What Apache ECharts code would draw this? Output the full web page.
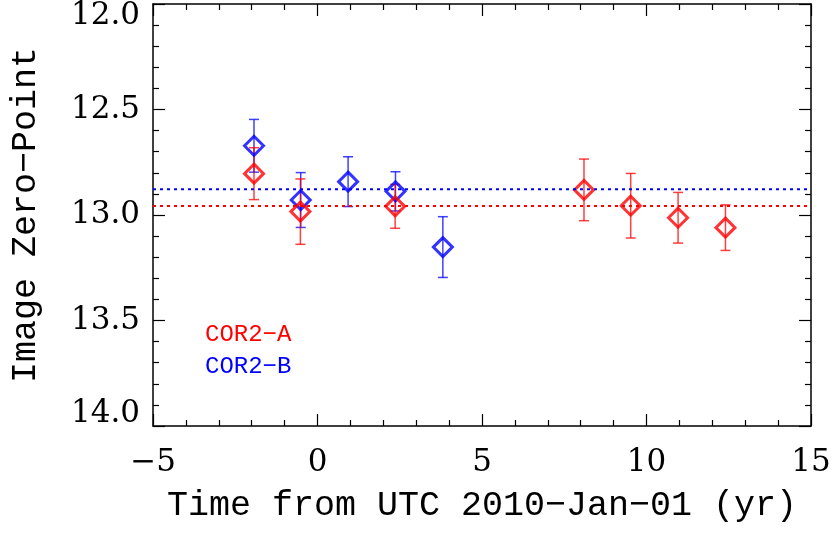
<!DOCTYPE html>
<html>
<head>
<meta charset="utf-8">
<script src="https://cdn.jsdelivr.net/npm/echarts@6/dist/echarts.min.js"></script>
<style>
  html, body { margin: 0; padding: 0; background: #fff; }
  #chart { width: 835px; height: 536px; }
</style>
</head>
<body>
<div id="chart"></div>
<script>
// COR2-A (red) and COR2-B (blue) zero-points
var timeA = [-1.93, -0.52, 2.36, 8.10, 9.52, 10.96, 12.40];
var zpA   = [12.804, 12.984, 12.959, 12.881, 12.956, 13.013, 13.060];
var errA  = [0.123, 0.155, 0.104, 0.146, 0.153, 0.120, 0.108];

var timeB = [-1.93, -0.51, 0.93, 2.37, 3.81];
var zpB   = [12.672, 12.929, 12.842, 12.888, 13.152];
var errB  = [0.125, 0.130, 0.118, 0.093, 0.144];

var meanA = 12.957;
var meanB = 12.878;

var xTicks = [-5, 0, 5, 10, 15];
var yTicks = [12.0, 12.5, 13.0, 13.5, 14.0];

var MONO = '"Liberation Mono", "DejaVu Sans Mono", monospace';
var SERIF = '"DejaVu Serif", "Liberation Serif", serif';

var pts = function (xs, ys) {
    return xs.map(function (x, i) { return [x, ys[i]]; });
};
var errPts = function (xs, ys, es) {
    return xs.map(function (x, i) { return [x, ys[i] - es[i], ys[i] + es[i]]; });
};

// error bar with small caps, drawn through the axis scales
var errorBar = function (color) {
    return function (params, api) {
        var lo = api.coord([api.value(0), api.value(1)]);
        var hi = api.coord([api.value(0), api.value(2)]);
        var w = 5;
        var st = { stroke: color, lineWidth: 1.5, opacity: 0.75 };
        return {
            type: 'group',
            children: [
                { type: 'line', shape: { x1: lo[0], y1: lo[1], x2: hi[0], y2: hi[1] }, style: st },
                { type: 'line', shape: { x1: lo[0] - w, y1: lo[1], x2: lo[0] + w, y2: lo[1] }, style: st },
                { type: 'line', shape: { x1: hi[0] - w, y1: hi[1], x2: hi[0] + w, y2: hi[1] }, style: st }
            ]
        };
    };
};

var myChart = echarts.init(document.getElementById('chart'));

var axisCommon = {
    axisLine: { show: true, onZero: false, lineStyle: { color: '#000', width: 1.5 } },
    splitLine: { show: false },
    axisTick: { show: true, inside: true, length: 12, lineStyle: { color: '#000', width: 1.2 } },
    minorTick: { show: true, splitNumber: 5, length: 6, lineStyle: { color: '#000', width: 1.2 } }
};

var option = {
    animation: false,
    backgroundColor: '#fff',
    grid: { left: 152, right: 24, top: 4, bottom: 110 },
    xAxis: [
        Object.assign({
            type: 'value', min: -5, max: 15, interval: 5, position: 'bottom',
            name: 'Time from UTC 2010\u2212Jan\u221201 (yr)',
            nameLocation: 'middle', nameGap: 62,
            nameTextStyle: { fontFamily: MONO, fontSize: 35, color: '#000' },
            axisLabel: {
                fontFamily: SERIF, fontSize: 31, color: '#000', margin: 21,
                formatter: function (v) { return xTicks.indexOf(v) >= 0 ? String(v).replace('-', '\u2212') : ''; }
            }
        }, axisCommon),
        Object.assign({
            type: 'value', min: -5, max: 15, interval: 5, position: 'top',
            axisLabel: { show: false }
        }, axisCommon)
    ],
    yAxis: [
        Object.assign({
            type: 'value', min: 12, max: 14, interval: 0.5, inverse: true, position: 'left',
            name: 'Image Zero\u2212Point',
            nameLocation: 'middle', nameGap: 110,
            nameTextStyle: { fontFamily: MONO, fontSize: 35, color: '#000' },
            axisLabel: {
                fontFamily: SERIF, fontSize: 31, lineHeight: 24, color: '#000', margin: 13,
                verticalAlignMinLabel: 'top', verticalAlignMaxLabel: 'bottom',
                formatter: function (v) { return yTicks.indexOf(v) >= 0 ? v.toFixed(1) : ''; }
            }
        }, axisCommon),
        Object.assign({
            type: 'value', min: 12, max: 14, interval: 0.5, inverse: true, position: 'right',
            axisLabel: { show: false }
        }, axisCommon)
    ],
    graphic: [
        { type: 'text', left: 205, top: 323, style: { text: 'COR2\u2212A', fill: '#ff0000', font: '24px ' + MONO } },
        { type: 'text', left: 205, top: 355, style: { text: 'COR2\u2212B', fill: '#0000ff', font: '24px ' + MONO } }
    ],
    series: [
        {
            type: 'line', data: [[-5, meanB], [15, meanB]], symbol: 'none', silent: true,
            lineStyle: { color: '#0000ff', width: 2, type: [3, 4] }
        },
        {
            type: 'line', data: [[-5, meanA], [15, meanA]], symbol: 'none', silent: true,
            lineStyle: { color: '#ff0000', width: 2, type: [3, 4] }
        },
        {
            type: 'custom', data: errPts(timeB, zpB, errB), renderItem: errorBar('#0000ff'),
            encode: { x: 0, y: [1, 2] }
        },
        {
            type: 'scatter', data: pts(timeB, zpB), symbol: 'diamond', symbolSize: 19,
            itemStyle: { color: 'rgba(0,0,0,0)', borderColor: '#0000ff', borderWidth: 3 }
        },
        {
            type: 'custom', data: errPts(timeA, zpA, errA), renderItem: errorBar('#ff0000'),
            encode: { x: 0, y: [1, 2] }
        },
        {
            type: 'scatter', data: pts(timeA, zpA), symbol: 'diamond', symbolSize: 19,
            itemStyle: { color: 'rgba(0,0,0,0)', borderColor: '#ff0000', borderWidth: 3 }
        }
    ]
};

myChart.setOption(option);
</script>
</body>
</html>
